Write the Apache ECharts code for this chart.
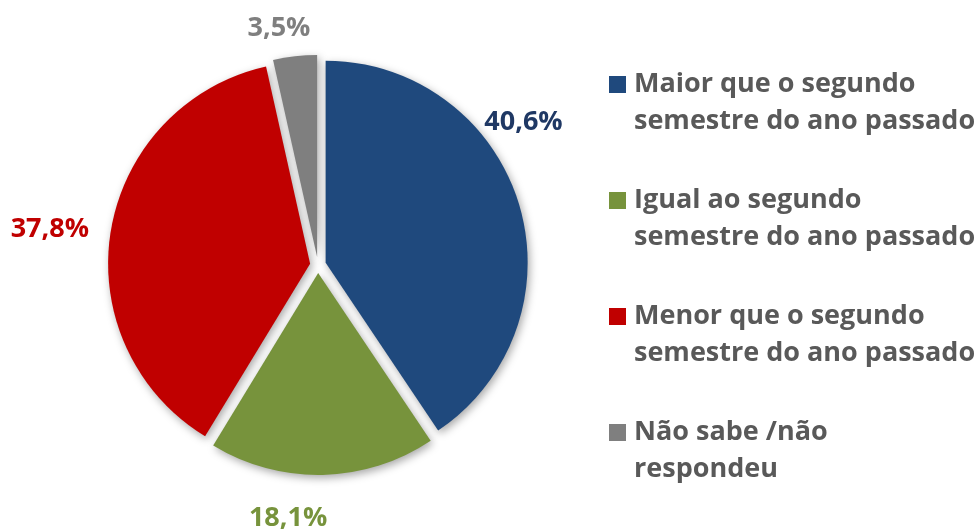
<!DOCTYPE html>
<html>
<head>
<meta charset="utf-8">
<script src="https://cdn.jsdelivr.net/npm/echarts@6/dist/echarts.min.js"></script>
<style>
  html, body { margin: 0; padding: 0; background: #fff; }
  #chart { width: 975px; height: 531px; }
</style>
</head>
<body>
<div id="chart"></div>
<script>
// dados
const categories = [
  'Maior que o segundo semestre do ano passado',
  'Igual ao segundo semestre do ano passado',
  'Menor que o segundo semestre do ano passado',
  'Não sabe /não respondeu'
]
const legendLines = [
  ['Maior que o segundo', 'semestre do ano passado'],
  ['Igual ao segundo', 'semestre do ano passado'],
  ['Menor que o segundo', 'semestre do ano passado'],
  ['Não sabe /não', 'respondeu']
]
const values = [40.6, 18.1, 37.8, 3.5]
const colors = ['#1F497D', '#77933C', '#C00000', '#7F7F7F']
const labelColors = ['#1F3864', '#77933C', '#C00000', '#7F7F7F']

const FONT = '"Open Sans", sans-serif'
const FONT_SIZE = 27
const LINE_H = 37

const chart = echarts.init(document.getElementById('chart'))

// quadradinhos da legenda em rich text (alinhados na 1a linha)
const legendRich = {
  t: { fontFamily: FONT, fontSize: FONT_SIZE, fontWeight: 'bold', color: '#595959', lineHeight: LINE_H, verticalAlign: 'middle' },
  pad: { width: 25, lineHeight: LINE_H }
}
colors.forEach((c, i) => {
  legendRich['sq' + i] = { width: 17, height: 17, backgroundColor: c, lineHeight: LINE_H, verticalAlign: 'middle' }
  legendRich['g' + i] = { width: 8, lineHeight: LINE_H }
})

// ajuste fino das etiquetas (como no original)
const labelShift = [[-53, -77], [-79, 29], [-3, 1], [22, -14]]

const option = {
  backgroundColor: '#fff',
  animation: false,
  legend: {
    orient: 'vertical',
    left: 598,
    top: 61,
    itemWidth: 1,
    itemHeight: 1,
    itemGap: 42,
    itemStyle: { opacity: 0 },
    selectedMode: false,
    data: categories,
    formatter: (name) => {
      const i = categories.indexOf(name)
      const [l1, l2] = legendLines[i]
      return `{sq${i}|}{g${i}|}{t|${l1}}\n{pad|}{t|${l2}}`
    },
    textStyle: { lineHeight: LINE_H, rich: legendRich }
  },
  series: [
    {
      type: 'pie',
      center: [318, 265],
      radius: 202,
      startAngle: 90,
      clockwise: true,
      selectedMode: 'multiple',
      selectedOffset: 8,
      emphasis: { disabled: true },
      itemStyle: {
        shadowBlur: 8,
        shadowColor: 'rgba(0,0,0,0.35)',
        shadowOffsetX: 2,
        shadowOffsetY: 3
      },
      label: {
        show: true,
        position: 'outside',
        fontFamily: FONT,
        fontSize: FONT_SIZE,
        fontWeight: 'bold',
        formatter: (p) => p.value.toFixed(1).replace('.', ',') + '%'
      },
      labelLine: { show: false, length: 14, length2: 0 },
      labelLayout: (p) => ({ dx: labelShift[p.dataIndex][0], dy: labelShift[p.dataIndex][1] }),
      data: values.map((v, i) => ({
        name: categories[i],
        value: v,
        selected: true,
        itemStyle: { color: colors[i] },
        label: { color: labelColors[i] }
      }))
    }
  ]
}

chart.setOption(option)
</script>
</body>
</html>
